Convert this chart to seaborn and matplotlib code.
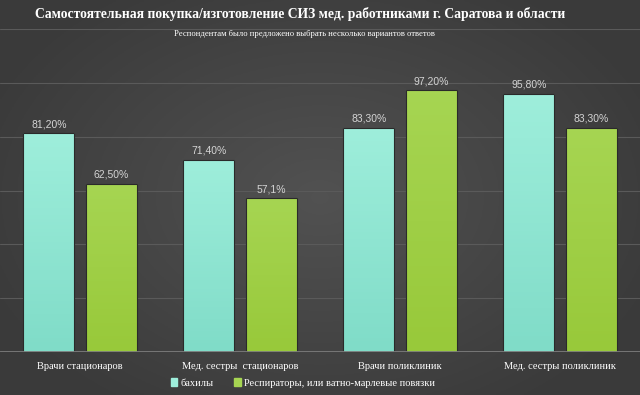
import numpy as np
import pandas as pd
import seaborn as sns
import matplotlib.pyplot as plt
from matplotlib.colors import LinearSegmentedColormap

groups = ["Врачи стационаров", "Мед. сестры  стационаров", "Врачи поликлиник", "Мед. сестры поликлиник"]
series = ["бахилы", "Респираторы, или ватно-марлевые повязки"]
bahily = [81.2, 71.4, 83.3, 95.8]
respir = [62.5, 57.1, 97.2, 83.3]
labels_bahily = ["81,20%", "71,40%", "83,30%", "95,80%"]
labels_respir = ["62,50%", "57,1%", "97,20%", "83,30%"]
colors = ["#9eeedb", "#a6d552"]
colors_bottom = ["#80dcc8", "#98c93a"]

df = pd.DataFrame({
    "group": groups * 2,
    "series": [series[0]] * 4 + [series[1]] * 4,
    "value": bahily + respir,
})

sns.set_style("dark")
plt.rcParams["font.family"] = ["Liberation Serif", "DejaVu Serif"]

fig = plt.figure(figsize=(6.4, 3.95), dpi=100)

# dark gradient background, lighter in the middle
bg = fig.add_axes([0, 0, 1, 1], zorder=-10)
xx = np.linspace(-1, 1, 320)
yy = np.linspace(-1, 1, 200)
X, Y = np.meshgrid(xx, yy)
r = np.clip(np.sqrt((X * 0.9) ** 2 + (Y * 0.8) ** 2), 0, 1)
grad = 0.32 - 0.09 * r
bg.imshow(np.dstack([grad] * 3), aspect="auto", extent=[0, 1, 0, 1])
bg.axis("off")

ax = fig.add_axes([0, 43 / 395, 1, (352 - 29) / 395])
ax.set_facecolor("none")
sns.barplot(data=df, x="group", y="value", hue="series", palette=colors,
            width=0.78, gap=0.18, edgecolor="#2a2a2a", linewidth=0.8,
            saturation=1, ax=ax, legend=False, zorder=3)

ax.set_ylim(0, 120)
ax.set_xlim(-0.5, 3.5)

# vertical gradient fill inside each bar
for cont, top, bot in zip(ax.containers, colors, colors_bottom):
    cmap = LinearSegmentedColormap.from_list("g", [bot, top])
    for p in cont.patches:
        x0, y0, w, h = p.get_x(), p.get_y(), p.get_width(), p.get_height()
        im = ax.imshow(np.linspace(0, 1, 64)[::-1].reshape(-1, 1), cmap=cmap,
                       extent=[x0, x0 + w, y0, y0 + h], aspect="auto", zorder=3.5)
        im.set_clip_path(p)
        p.set_zorder(3.6)
        p.set_facecolor("none")

for cont, labs in zip(ax.containers, [labels_bahily, labels_respir]):
    ax.bar_label(cont, labels=labs, padding=3, color="#d4d4d4", fontsize=7.5,
                 family=["Liberation Sans", "DejaVu Sans"])

ax.set_xlim(-0.5, 3.5)
ax.set_ylim(0, 120)
ax.set_yticks([0, 20, 40, 60, 80, 100, 120])
ax.yaxis.grid(True, color="#5a5a5a", linewidth=0.8, zorder=0)
ax.xaxis.grid(False)
ax.tick_params(axis="y", left=False, labelleft=False)
ax.tick_params(axis="x", bottom=False, colors="white", labelsize=7.5, pad=3.5)
ax.set_xlabel("")
ax.set_ylabel("")
for s in ax.spines.values():
    s.set_visible(False)
ax.axhline(0, color="#7c7c7c", linewidth=2, zorder=4)

fig.text(300 / 640, 1 - 14 / 395, "Самостоятельная покупка/изготовление СИЗ мед. работниками г. Саратова и области",
         ha="center", va="center", color="white", fontsize=9.8, fontweight="bold")
fig.text(304 / 640, 1 - 34 / 395, "Респондентам было предложено выбрать несколько вариантов ответов",
         ha="center", va="center", color="white", fontsize=6.2)

# legend
handles = [plt.Rectangle((0, 0), 1, 1, color=c) for c in colors]
leg = fig.legend(handles, series, loc="center", bbox_to_anchor=(303 / 640, 1 - 383 / 395),
                 ncol=2, frameon=False, fontsize=7.5, handlelength=0.6, handleheight=0.8,
                 handletextpad=0.3, columnspacing=2.0)
for t in leg.get_texts():
    t.set_color("white")

fig.savefig("out.png", dpi=100)
